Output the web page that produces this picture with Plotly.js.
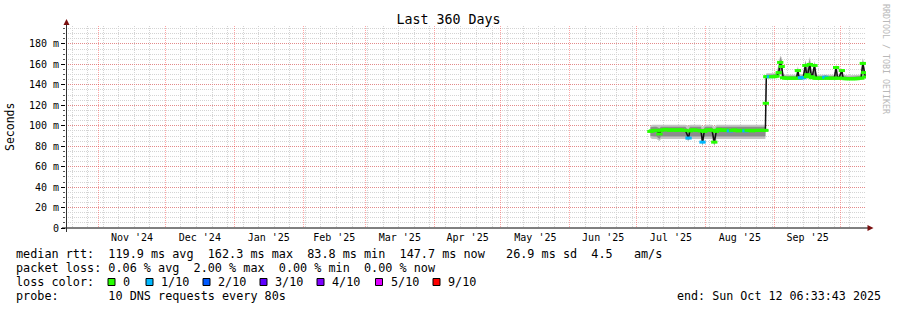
<!DOCTYPE html>
<html><head><meta charset="utf-8">
<script src="https://cdn.plot.ly/plotly-3.0.1.min.js"></script>
<style>html,body{margin:0;padding:0;background:#fff}#chart{width:897px;height:310px}</style>
</head><body><div id="chart"></div>
<script>
// ---------- data ----------
const times = [
 '2025-07-07 06:00','2025-07-08','2025-07-09','2025-07-10','2025-07-11 08:00','2025-07-12','2025-07-13','2025-07-14','2025-07-15','2025-07-16',
 '2025-07-17','2025-07-18','2025-07-19','2025-07-20','2025-07-21','2025-07-22','2025-07-23','2025-07-24 10:00','2025-07-25','2025-07-26',
 '2025-07-27','2025-07-28','2025-07-29','2025-07-30','2025-07-30 17:00','2025-07-31 12:00','2025-08-01','2025-08-02','2025-08-03','2025-08-04',
 '2025-08-05 00:00','2025-08-05 18:00','2025-08-06','2025-08-07','2025-08-08','2025-08-09','2025-08-10','2025-08-11','2025-08-12','2025-08-13',
 '2025-08-14','2025-08-15','2025-08-16','2025-08-17','2025-08-18','2025-08-19','2025-08-20','2025-08-21','2025-08-22','2025-08-23',
 '2025-08-24','2025-08-25','2025-08-26','2025-08-27','2025-08-28 00:00','2025-08-28 05:00','2025-08-28 10:00','2025-08-29','2025-08-30','2025-08-31',
 '2025-09-01','2025-09-02','2025-09-03 00:00','2025-09-03 16:00','2025-09-04 08:00','2025-09-05','2025-09-06','2025-09-07','2025-09-08','2025-09-09',
 '2025-09-10','2025-09-11','2025-09-11 15:00','2025-09-12 06:00','2025-09-13','2025-09-14','2025-09-15 00:00','2025-09-15 16:00','2025-09-16','2025-09-17 00:00',
 '2025-09-17 16:00','2025-09-18','2025-09-19 02:00','2025-09-19 16:00','2025-09-20','2025-09-21','2025-09-22','2025-09-23','2025-09-24','2025-09-25',
 '2025-09-26','2025-09-27','2025-09-28','2025-09-28 20:00','2025-09-29 12:00','2025-09-30','2025-10-01 10:00','2025-10-02','2025-10-03','2025-10-04',
 '2025-10-05','2025-10-06','2025-10-07','2025-10-08','2025-10-09','2025-10-10','2025-10-10 20:00','2025-10-11 12:00','2025-10-12 00:00'
];
// median rtt in ms
const median = [
 94.5,95,95.5,95.5,92,95.5,96,96.5,96,95.5,
 96,96,95.5,96,96,95.5,95.5,88,95,96,
 96,95.5,95.5,95,84,94.5,95.5,96,96,95.5,
 84,94.5,95.5,96.5,96,95.5,96,95.5,95,95.5,
 96,95.5,95,95.5,95.5,95,95.5,95.5,95,95.5,
 95.5,95.5,95.5,95.5,95.5,122,148,148,148,148,
 148,148.5,152,162,158,147,146.5,146.5,146.5,146.5,
 146.5,146.5,154,146.5,147,147,159,148,150,160,
 148,147,159,146.5,146.5,146.5,146.5,146.5,147.5,146.5,
 146.5,146.5,146.5,157,146.5,146.5,154,146.5,146,146,
 146,146,146,146,146.5,146.5,161,152,147.7
];
// lost pings out of 10
const loss = [
 0,0,0,0,0,0,0,0,0,0,
 0,0,0,0,0,0,0,1,0,0,
 0,0,0,0,1,0,0,0,0,0,
 0,0,0,0,0,0,0,0,1,0,
 0,0,0,0,0,1,0,0,0,0,
 0,0,0,0,0,0,0,0,1,0,
 0,0,0,0,0,0,0,0,0,0,
 0,0,0,0,1,1,0,0,0,0,
 0,0,0,0,0,0,0,0,1,0,
 0,0,0,0,0,0,0,0,0,0,
 0,0,0,0,0,0,0,0,0
];
// smoke (ping spread) outer and inner envelopes, ms
const smokeMin = [
 88,87,87,87,85,87,87,87,87,87,
 87,87,87,87,87,87,87,85,87,87,
 87,87,87,87,80,87,87,87,87,87,
 80,87,87,87,87,87,87,87,87,87,
 87,87,87,87,87,87,87,87,87,87,
 87,87,87,87,87,100,146,146.5,146.5,146.5,
 146.5,146.5,147,150,147,145.5,145,145,145,145,
 145,145,146,145,145,145,147,146,146,148,
 146,145,147,145,145,145,145,145,145,145,
 145,145,145,146,145,145,146,145,145,145,
 145,145,145,145,145,145,148,146,146
];
const smokeLo = [
 90,89.5,89.5,89.5,87,89.5,89.5,89.5,89.5,89.5,
 89.5,89.5,89.5,89.5,89.5,89.5,89.5,86,89.5,89.5,
 89.5,89.5,89.5,89.5,81,89,89.5,89.5,89.5,89.5,
 81,89,89.5,89.5,89.5,89.5,89.5,89.5,89.5,89.5,
 89.5,89.5,89.5,89.5,89.5,89.5,89.5,89.5,89.5,89.5,
 89.5,89.5,89.5,89.5,89.5,105,147,147.5,147.5,147.5,
 147.5,147.5,148.5,153,149,146,145.5,145.5,145.5,145.5,
 145.5,145.5,147,145.5,145.5,145.5,149,146.5,147,150,
 146.5,145.5,149,145.5,145.5,145.5,145.5,145.5,145.5,145.5,
 145.5,145.5,145.5,148,145.5,145.5,147,145.5,145.5,145.5,
 145.5,145.5,145.5,145.5,145.5,145.5,151,147,146.5
];
const smokeHi = [
 98.5,99,99,99,97.5,99,99,99,99,99,
 99,99,99,99,99,99,99,95,99,99,
 99,99,99,99,92,98,99,99,99,99,
 92,98,99,99,99,99,99,99,99,99,
 99,99,99,99,99,99,99,99,99,99,
 99,99,99,99,99,140,150,150,150,150,
 150,150.5,158,167,164,150,148.5,148.5,148.5,148.5,
 148.5,148.5,157,148.5,149,149,163,154,156,165,
 154,148.5,162,148.5,148.5,148.5,148.5,148.5,149.5,148.5,
 148.5,148.5,148.5,159.5,148.5,148.5,155.5,148.5,148,148,
 148,148,148,148,148.5,148.5,165,158,149.5
];
const smokeMax = [
 100,101,101,101,100.5,101,101,101,101,101,
 101,101,101,101,101,101,101,100,101,101,
 101,101,101,101,99,100.5,101,101,101,101,
 99,100.5,101,101,101,101,101,101,101,101,
 101,101,101,101,101,101,101,101,101,101,
 101,101,101,101,101,148,151.5,151.5,151.5,151.5,
 151.5,151.5,161,168.5,167,151.5,150,150,150,150,
 150,150,158.5,150,150.5,150.5,164.5,158,159,167.5,
 158,150.5,163.5,150,150,150,150,150,150.5,150,
 150,150,150,160.5,150,150,156.5,150,149.5,149.5,
 149.5,149.5,149.5,149.5,150,150,166.5,161,151
];
const yTickVals = [0,20,40,60,80,100,120,140,160,180];
const yTickText = ['0','20 m','40 m','60 m','80 m','100 m','120 m','140 m','160 m','180 m'];
const lossLevels = [0,1,2,3,4,5,9];
const lossLabels = ['0','1/10','2/10','3/10','4/10','5/10','9/10'];
const lossColors = ['#26ff00','#00b8ff','#0059ff','#5e00ff','#7e00ff','#dd00ff','#ff0000'];
const titleText = 'Last 360 Days';
const yTitle = 'Seconds';
const sideText = 'RRDTOOL / TOBI OETIKER';
const lineRtt = 'median rtt:  119.9 ms avg  162.3 ms max  83.8 ms min  147.7 ms now   26.9 ms sd  4.5   am/s';
const lineLoss = 'packet loss: 0.06 % avg  2.00 % max  0.00 % min  0.00 % now';
const lineColor = 'loss color:';
const lineProbe = 'probe:       10 DNS requests every 80s';
const lineEnd = 'end: Sun Oct 12 06:33:43 2025';
const rangeStart = '2024-10-17 06:33:43';
const rangeEnd = '2025-10-12 06:33:43';

// ---------- layout helpers ----------
const L = 66, T = 26, W = 800, H = 202;
const px = v => (v - L) / W;
const py = v => (T + H - v) / H;
const nb = s => s.replace(/ /g, '\u00a0');
const mono = 'DejaVu Sans Mono';
const medColors = loss.map(l => lossColors[lossLevels.indexOf(l)]);
const noLine = {width: 0, color: 'rgba(0,0,0,0)'};

const traces = [
  {x: times, y: smokeMin, mode: 'lines', line: noLine, hoverinfo: 'skip'},
  {x: times, y: smokeMax, mode: 'lines', line: noLine, fill: 'tonexty', fillcolor: '#c4c4c4', hoverinfo: 'skip'},
  {x: times, y: smokeLo, mode: 'lines', line: noLine, hoverinfo: 'skip'},
  {x: times, y: smokeHi, mode: 'lines', line: noLine, fill: 'tonexty', fillcolor: '#8c8c8c', hoverinfo: 'skip'},
  {x: times, y: median, mode: 'lines', line: {color: '#111', width: 1.5}, hoverinfo: 'skip'},
  {x: times, y: median, mode: 'markers',
   marker: {symbol: 'line-ew', size: 4.5, color: medColors, line: {width: 3, color: medColors}}, hoverinfo: 'skip'}
];

const gridMinor = '#d4d4d4', gridMajor = 'rgba(255,0,0,0.35)';
const arrowCol = '#7a0f0f';
const shapes = [
  {type: 'line', xref: 'paper', yref: 'paper', x0: px(62), x1: px(869), y0: 0, y1: 0, line: {color: '#000', width: 1}},
  {type: 'line', xref: 'paper', yref: 'paper', x0: px(66.5), x1: px(66.5), y0: py(232), y1: py(23), line: {color: '#333', width: 1}},
  {type: 'path', xref: 'paper', yref: 'paper', fillcolor: arrowCol, line: {width: 0},
   path: `M${px(63.5)},${py(25)} L${px(66.5)},${py(19)} L${px(69.5)},${py(25)} Z`},
  {type: 'path', xref: 'paper', yref: 'paper', fillcolor: arrowCol, line: {width: 0},
   path: `M${px(867.5)},${py(225)} L${px(873.5)},${py(228)} L${px(867.5)},${py(231)} Z`}
];

const annotations = [
  {text: yTitle, textangle: -90, xref: 'paper', yref: 'paper', x: px(10), y: py(127), xanchor: 'center', yanchor: 'middle', showarrow: false, font: {family: mono, size: 11.5, color: '#000'}},
  {text: sideText, textangle: 90, xref: 'paper', yref: 'paper', x: px(886), y: py(59), xanchor: 'center', yanchor: 'middle', showarrow: false, font: {family: mono, size: 8.3, color: '#b8b8b8'}},
];
const legLines = [[lineRtt, 254], [lineLoss, 268], [lineColor, 282], [lineProbe, 296]];
legLines.forEach(([t, y]) => annotations.push({text: nb(t), xref: 'paper', yref: 'paper', x: px(14), y: py(y), xanchor: 'left', yanchor: 'middle', showarrow: false, font: {family: mono, size: 11.8, color: '#000'}}));
annotations.push({text: nb(lineEnd), xref: 'paper', yref: 'paper', x: px(883), y: py(296), xanchor: 'right', yanchor: 'middle', showarrow: false, font: {family: mono, size: 11.7, color: '#000'}});

// loss colour legend boxes
const boxX = [108, 146, 203, 260, 317, 375.5, 433];
lossLabels.forEach((lab, i) => {
  shapes.push({type: 'rect', xref: 'paper', yref: 'paper', x0: px(boxX[i]), x1: px(boxX[i] + 7), y0: py(285.5), y1: py(278.5), fillcolor: lossColors[i], line: {color: '#000', width: 1}});
  annotations.push({text: nb(lab), xref: 'paper', yref: 'paper', x: px(boxX[i] + 13), y: py(282), xanchor: 'left', yanchor: 'middle', showarrow: false, font: {family: mono, size: 11.8, color: '#000'}});
});

const layout = {
  width: 897, height: 310,
  margin: {l: L, r: 897 - L - W, t: T, b: 310 - T - H, pad: 0},
  paper_bgcolor: '#fff', plot_bgcolor: '#fff',
  showlegend: false,
  font: {family: mono, size: 10, color: '#000'},
  title: {text: titleText, font: {family: mono, size: 13.3, color: '#000'}, x: 0.5, xref: 'container', xanchor: 'center', y: 1 - 19 / 310, yref: 'container', yanchor: 'middle'},
  xaxis: {
    type: 'date', range: [rangeStart, rangeEnd], fixedrange: true,
    tick0: '2024-11-01', dtick: 'M1', tickformat: "%b '%y", ticklabelmode: 'period',
    showgrid: true, gridcolor: gridMajor, griddash: '1px,1px', gridwidth: 1,
    ticks: '', zeroline: false, showline: false, ticklabelstandoff: 2,
    tickfont: {family: mono, size: 10, color: '#000'},
    minor: {tickmode: 'linear', tick0: '2024-10-20', dtick: 7 * 86400000, showgrid: true, gridcolor: gridMinor, griddash: '1px,1px', gridwidth: 1}
  },
  yaxis: {
    range: [0, 197.6], fixedrange: true,
    tickmode: 'array', tickvals: yTickVals, ticktext: yTickText,
    showgrid: true, gridcolor: gridMajor, griddash: '1px,1px', gridwidth: 1,
    ticks: 'outside', ticklen: 4, tickcolor: '#000', zeroline: false, showline: false,
    tickfont: {family: mono, size: 10, color: '#000'},
    minor: {tickmode: 'linear', tick0: 0, dtick: 5, showgrid: true, gridcolor: gridMinor, griddash: '1px,1px', gridwidth: 1, ticks: 'outside', ticklen: 2, tickcolor: '#555'}
  },
  shapes: shapes,
  annotations: annotations
};

Plotly.newPlot('chart', traces, layout, {staticPlot: true, displayModeBar: false});
</script>
</body></html>
